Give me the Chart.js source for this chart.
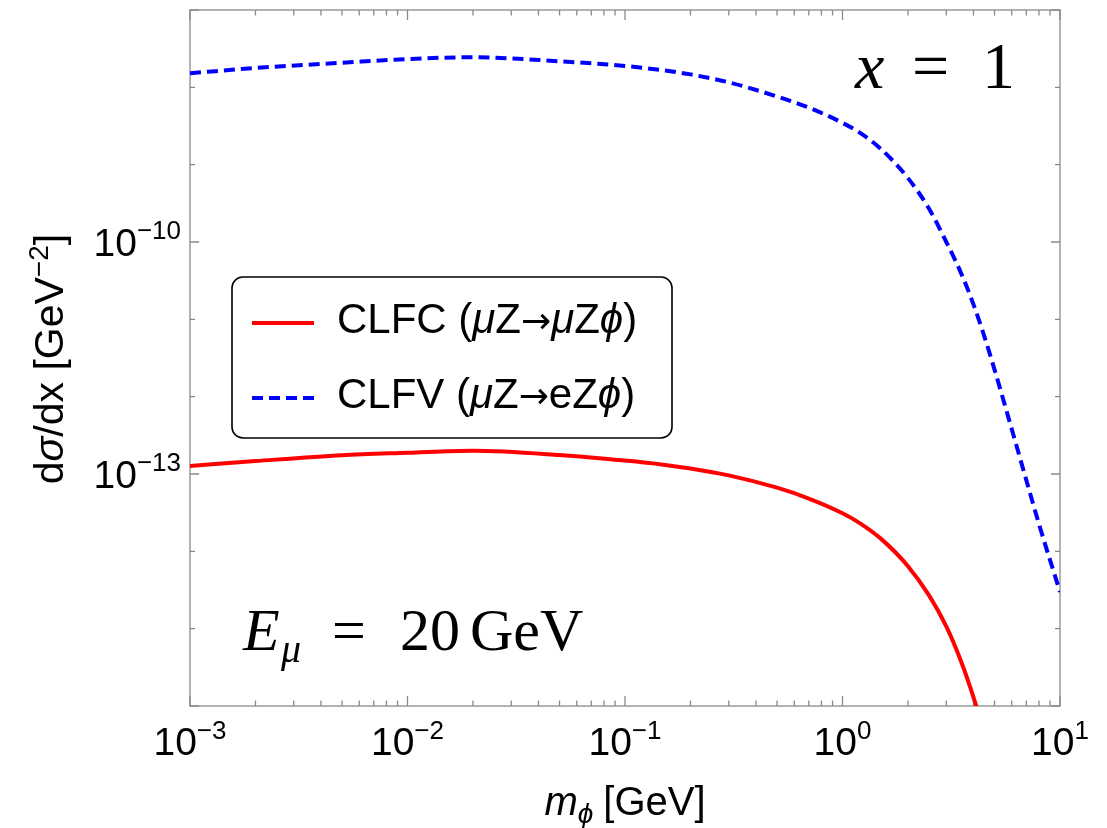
<!DOCTYPE html>
<html>
<head>
<meta charset="utf-8">
<script src="https://cdn.jsdelivr.net/npm/chart.js@4.4.0/dist/chart.umd.min.js"></script>
<style>
  body { margin: 0; background: #fff; }
</style>
</head>
<body>
<canvas id="myChart" width="1107" height="828"></canvas>
<script>
// m_phi in GeV
const massValues = [0.001, 0.002, 0.005, 0.01, 0.02, 0.05, 0.1, 0.15, 0.2, 0.3, 0.5, 0.7, 1, 1.2, 1.5, 2, 2.5, 3, 3.5, 4, 4.5, 5, 6, 7, 8, 10];
// dsigma/dx in GeV^-2
const clfcValues = [1.27e-13, 1.47e-13, 1.75e-13, 1.88e-13, 2.0e-13, 1.76e-13, 1.49e-13, 1.32e-13, 1.18e-13, 9.6e-14, 6.65e-14, 4.82e-14,
                    3.11e-14, 2.32e-14, 1.46e-14, 6.43e-15, 2.69e-15, 1.07e-15, 3.84e-16, 1.3e-16, 4.3e-17, 1.26e-17, null, null, null, null];
const clfvValues = [1.52e-8, 1.78e-8, 2.08e-8, 2.32e-8, 2.45e-8, 2.17e-8, 1.89e-8, 1.66e-8, 1.47e-8, 1.16e-8, 7.62e-9, 5.47e-9,
                    3.47e-9, 2.59e-9, 1.6e-9, 6.7e-10, 2.69e-10, 1.0e-10, 4.02e-11, 1.56e-11, 5.9e-12, 2.24e-12, 3.8e-13, 8.34e-14, 2.26e-14, 2.98e-15];
const seriesNames = ['CLFC', 'CLFV'];
const xTickExps = [-3, -2, -1, 0, 1];
const yTickExps = [-13, -10];

const SANS = '"Liberation Sans", Arial, sans-serif';
const SERIF = '"Liberation Serif", "Times New Roman", serif';

function setFont(c, p) {
    c.font = (p.italic ? 'italic ' : '') + p.size + 'px ' + (p.family || SANS);
}
function piecesWidth(c, pieces) {
    let w = 0;
    pieces.forEach(p => { setFont(c, p); w += c.measureText(p.t).width + (p.gap || 0); });
    return w;
}
function drawPieces(c, pieces, x, y) {
    let cx = x;
    pieces.forEach(p => {
        setFont(c, p);
        c.fillText(p.t, cx, y + (p.dy || 0));
        cx += c.measureText(p.t).width + (p.gap || 0);
    });
}
function expStr(e) {
    return (e < 0 ? '\u2212' : '') + Math.abs(e);
}
function isDecade(v) {
    const l = Math.log10(v);
    return Math.abs(l - Math.round(l)) < 1e-6;
}

const framePlugin = {
    id: 'frame',
    beforeDatasetsDraw(chart) {
        const c = chart.ctx, a = chart.chartArea;
        const xs = chart.scales.x, ys = chart.scales.y;
        c.save();
        c.strokeStyle = '#8a8a8a';
        c.lineWidth = 1.3;
        c.strokeRect(a.left, a.top, a.right - a.left, a.bottom - a.top);
        c.beginPath();
        xs.ticks.forEach(t => {
            const px = xs.getPixelForValue(t.value);
            const len = isDecade(t.value) ? 10 : 5.5;
            c.moveTo(px, a.bottom); c.lineTo(px, a.bottom - len);
            c.moveTo(px, a.top); c.lineTo(px, a.top + len);
        });
        ys.ticks.forEach(t => {
            const py = ys.getPixelForValue(t.value);
            const e = Math.round(Math.log10(t.value));
            const len = Math.abs(e - yTickExps[0]) % 3 === 0 ? 9 : 5;
            c.moveTo(a.left, py); c.lineTo(a.left + len, py);
            c.moveTo(a.right, py); c.lineTo(a.right - len, py);
        });
        c.stroke();
        c.restore();
    },
    afterDraw(chart) {
        const c = chart.ctx;
        const xs = chart.scales.x, ys = chart.scales.y;
        const ds = chart.data.datasets;
        c.save();
        c.fillStyle = '#000';
        c.textBaseline = 'alphabetic';

        // x tick labels
        xTickExps.forEach(e => {
            const px = xs.getPixelForValue(Math.pow(10, e));
            const pieces = [{ t: '10', size: 39 }, { t: expStr(e), size: 26, dy: -16 }];
            const w = piecesWidth(c, pieces);
            drawPieces(c, pieces, px - w / 2, 755);
        });
        // y tick labels
        yTickExps.forEach(e => {
            const py = ys.getPixelForValue(Math.pow(10, e));
            const pieces = [{ t: '10', size: 39 }, { t: expStr(e), size: 26, dy: -17 }];
            const w = piecesWidth(c, pieces);
            drawPieces(c, pieces, 181 - w, py + 14);
        });

        // x title
        const xt = [{ t: 'm', size: 40, italic: true }, { t: '\u03d5', size: 28, italic: true, dy: 8, gap: 10 },
                    { t: '[GeV]', size: 40 }];
        const xw = piecesWidth(c, xt);
        drawPieces(c, xt, 625 - xw / 2, 815);

        // y title
        const yt = [{ t: 'd', size: 41 }, { t: '\u03c3', size: 41, italic: true }, { t: '/dx [GeV', size: 41 },
                    { t: '\u22122', size: 28, dy: -15 }, { t: ']', size: 41 }];
        const yw = piecesWidth(c, yt);
        c.save();
        c.translate(63, 359);
        c.rotate(-Math.PI / 2);
        drawPieces(c, yt, -yw / 2, 0);
        c.restore();

        // annotations
        c.font = 'italic 66px ' + SERIF;
        c.fillText('x', 855, 88);
        c.font = '66px ' + SERIF;
        c.fillText('=', 912, 88);
        c.fillText('1', 982, 88);

        c.font = 'italic 60px ' + SERIF;
        c.fillText('E', 243, 650);
        c.font = 'italic 40px ' + SERIF;
        c.fillText('\u03bc', 281, 662);
        c.font = '60px ' + SERIF;
        c.fillText('=', 332, 650);
        c.fillText('20', 400, 650);
        c.fillText('GeV', 470, 650);

        // legend
        c.beginPath();
        c.roundRect(232, 277, 440, 161, 11);
        c.fillStyle = '#fff';
        c.fill();
        c.strokeStyle = '#000';
        c.lineWidth = 1.6;
        c.stroke();
        const fs = 42;
        const arrow = { t: '\u2192', size: 36, family: '"DejaVu Sans", sans-serif' };
        const rows = [
            { y: 323, ds: ds[0], pieces: [{ t: seriesNames[0] + ' (', size: fs }, { t: '\u03bc', size: fs, italic: true },
                { t: 'Z', size: fs }, arrow, { t: '\u03bc', size: fs, italic: true }, { t: 'Z', size: fs },
                { t: '\u03d5', size: fs, italic: true }, { t: ')', size: fs }] },
            { y: 398, ds: ds[1], pieces: [{ t: seriesNames[1] + ' (', size: fs }, { t: '\u03bc', size: fs, italic: true },
                { t: 'Z', size: fs }, arrow, { t: 'eZ', size: fs }, { t: '\u03d5', size: fs, italic: true }, { t: ')', size: fs }] }
        ];
        rows.forEach(r => {
            c.save();
            c.strokeStyle = r.ds.borderColor;
            c.lineWidth = r.ds.borderWidth;
            c.setLineDash(r.ds.borderDash || []);
            c.beginPath();
            c.moveTo(252, r.y);
            c.lineTo(314, r.y);
            c.stroke();
            c.restore();
            c.fillStyle = '#000';
            drawPieces(c, r.pieces, 337, r.y + 10);
        });
        c.restore();
    }
};

let ctx = document.getElementById('myChart');

let myChart = new Chart(ctx, {
    type: 'line',
    data: {
        datasets: [{
            label: seriesNames[0],
            data: massValues.map((m, i) => ({ x: m, y: clfcValues[i] })),
            borderColor: '#ff0000',
            borderWidth: 4,
            pointRadius: 0,
            cubicInterpolationMode: 'monotone',
            spanGaps: false
        }, {
            label: seriesNames[1],
            data: massValues.map((m, i) => ({ x: m, y: clfvValues[i] })),
            borderColor: '#0000ff',
            borderWidth: 4,
            borderDash: [11, 6],
            pointRadius: 0,
            cubicInterpolationMode: 'monotone'
        }]
    },
    options: {
        responsive: false,
        animation: false,
        layout: { padding: { top: 10, right: 47, left: 0, bottom: 0 } },
        plugins: { legend: { display: false }, tooltip: { enabled: false } },
        scales: {
            x: {
                type: 'logarithmic',
                min: 1e-3,
                max: 10,
                grid: { display: false },
                border: { display: false },
                ticks: { display: false, autoSkip: false },
                afterBuildTicks(scale) {
                    const t = [];
                    for (let d = -3; d < 1; d++) {
                        for (let k = 1; k <= 9; k++) t.push({ value: k * Math.pow(10, d) });
                    }
                    t.push({ value: 10 });
                    scale.ticks = t;
                },
                afterFit(scale) { scale.height = 122; }
            },
            y: {
                type: 'logarithmic',
                min: 1e-16,
                max: 1e-7,
                grid: { display: false },
                border: { display: false },
                ticks: { display: false, autoSkip: false },
                afterBuildTicks(scale) {
                    const t = [];
                    for (let e = -16; e <= -7; e++) t.push({ value: Math.pow(10, e) });
                    scale.ticks = t;
                },
                afterFit(scale) { scale.width = 190; }
            }
        }
    },
    plugins: [framePlugin]
});
</script>
</body>
</html>
